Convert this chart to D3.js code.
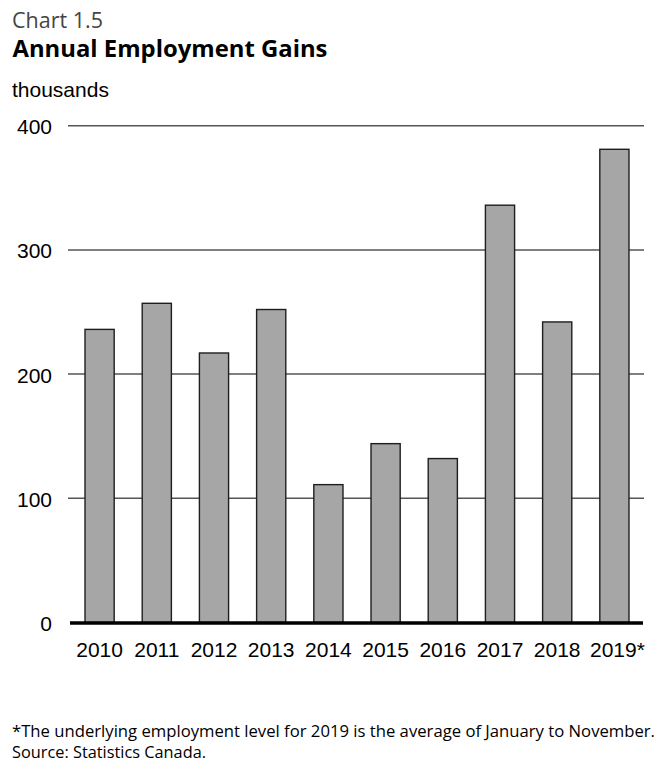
<!DOCTYPE html>
<html>
<head>
<meta charset="utf-8">
<script src="https://cdn.jsdelivr.net/npm/d3@7"></script>
<style>
  html, body { margin: 0; padding: 0; background: #fff; }
  svg { display: block; }
</style>
</head>
<body>
<svg id="chart" width="657" height="763"></svg>
<script>
// Annual employment gains, thousands of jobs
const years = ["2010", "2011", "2012", "2013", "2014", "2015", "2016", "2017", "2018", "2019*"];
const gains = [236, 257, 217, 252, 111, 144, 132, 336, 242, 381];
const yTicks = [0, 100, 200, 300, 400];

const chartLabel = "Chart 1.5";
const chartTitle = "Annual Employment Gains";
const unitLabel = "thousands";
const notes = [
  "*The underlying employment level for 2019 is the average of January to November.",
  "Source: Statistics Canada."
];

const svg = d3.select("#chart");
const sansUI = "'Open Sans', 'Noto Sans', sans-serif";
const sansAxis = "'Liberation Sans', Arial, sans-serif";

const x = d3.scaleBand()
  .domain(years)
  .range([71, 643])
  .paddingInner(0.49)
  .paddingOuter(0.245);

const y = d3.scaleLinear()
  .domain([0, 400])
  .range([622.5, 125.7]);

// Fit a text element's font size so its width matches a target
function fitWidth(sel, target) {
  const node = sel.node();
  const fs = parseFloat(sel.attr("font-size"));
  const w = node.getComputedTextLength();
  if (w > 0) sel.attr("font-size", (fs * target / w).toFixed(2));
}

// Header
const lbl = svg.append("text")
  .attr("x", 12).attr("y", 27.5)
  .attr("font-family", sansUI).attr("font-size", 20)
  .attr("font-weight", 400).attr("fill", "#444")
  .text(chartLabel);
fitWidth(lbl, 91);

const ttl = svg.append("text")
  .attr("x", 12.5).attr("y", 57)
  .attr("font-family", sansUI).attr("font-size", 20)
  .attr("font-weight", 700).attr("fill", "#000")
  .text(chartTitle);
fitWidth(ttl, 315);

svg.append("text")
  .attr("x", 12).attr("y", 97)
  .attr("font-family", sansAxis).attr("font-size", 21)
  .attr("fill", "#000")
  .text(unitLabel);

// Horizontal gridlines
svg.append("g")
  .selectAll("line")
  .data(yTicks.filter(d => d > 0))
  .join("line")
  .attr("x1", 68).attr("x2", 644)
  .attr("y1", d => y(d)).attr("y2", d => y(d))
  .attr("stroke", "#555").attr("stroke-width", 1.5);

// Y tick labels
svg.append("g")
  .selectAll("text")
  .data(yTicks)
  .join("text")
  .attr("x", 52)
  .attr("y", d => y(d) + 1)
  .attr("dy", "0.36em")
  .attr("text-anchor", "end")
  .attr("font-family", sansAxis).attr("font-size", 21)
  .attr("fill", "#000")
  .text(d => d);

// Bars
svg.append("g")
  .selectAll("rect")
  .data(gains)
  .join("rect")
  .attr("x", (d, i) => x(years[i]))
  .attr("width", x.bandwidth())
  .attr("y", d => y(d))
  .attr("height", d => y(0) - y(d))
  .attr("fill", "#a6a6a6")
  .attr("stroke", "#1e1e1e")
  .attr("stroke-width", 1.4);

// Zero line
svg.append("line")
  .attr("x1", 70).attr("x2", 643)
  .attr("y1", y(0) + 0.5).attr("y2", y(0) + 0.5)
  .attr("stroke", "#000").attr("stroke-width", 3.5);

// X axis labels
svg.append("g")
  .selectAll("text")
  .data(years)
  .join("text")
  .attr("x", d => x(d) + x.bandwidth() / 2 + (d.endsWith("*") ? 3 : 0))
  .attr("y", 656.5)
  .attr("text-anchor", "middle")
  .attr("font-family", sansAxis).attr("font-size", 21)
  .attr("fill", "#000")
  .text(d => d);

// Footnotes (condensed setting)
const noteWidths = [643, 194];
const noteY = [737, 758];
notes.forEach((t, i) => {
  svg.append("text")
    .attr("x", 12).attr("y", noteY[i])
    .attr("font-family", sansUI).attr("font-size", 15.5)
    .attr("fill", "#000")
    .attr("textLength", noteWidths[i])
    .attr("lengthAdjust", "spacingAndGlyphs")
    .text(t);
});
</script>
</body>
</html>
